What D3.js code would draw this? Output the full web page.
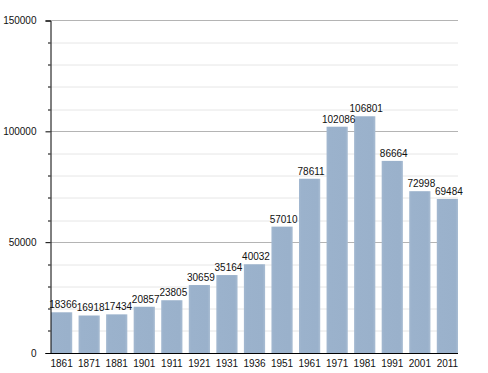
<!DOCTYPE html>
<html>
<head>
<meta charset="utf-8">
<script src="https://cdn.jsdelivr.net/npm/d3@7"></script>
<style>
  body { margin: 0; background: #fff; }
  text { font-family: "Liberation Sans", Arial, sans-serif; }
</style>
</head>
<body>
<div id="chart"></div>
<script>
// census years and population
var years = ["1861", "1871", "1881", "1901", "1911", "1921", "1931", "1936",
  "1951", "1961", "1971", "1981", "1991", "2001", "2011"];
var population = [18366, 16918, 17434, 20857, 23805, 30659, 35164, 40032,
  57010, 78611, 102086, 106801, 86664, 72998, 69484];
var yTicks = [0, 50000, 100000, 150000];

var svgWidth = 488;
var svgHeight = 373;
var margin = { top: 20.5, right: 30, bottom: 20, left: 50.5 };
var width = svgWidth - margin.left - margin.right;
var height = 353 - margin.top;

var svg = d3.select("#chart")
  .append("svg")
  .attr("width", svgWidth)
  .attr("height", svgHeight);

// soft glow on the bar edges
var defs = svg.append("defs");
var grad = defs.append("linearGradient")
  .attr("id", "barGrad")
  .attr("x1", "0%").attr("x2", "100%");
grad.append("stop").attr("offset", "0%").attr("stop-color", "#a3b8d0");
grad.append("stop").attr("offset", "12%").attr("stop-color", "#9bb2cc");
grad.append("stop").attr("offset", "88%").attr("stop-color", "#9ab1cb");
grad.append("stop").attr("offset", "100%").attr("stop-color", "#a9bdd3");

var chartGroup = svg.append("g")
  .attr("transform", `translate(${margin.left}, ${margin.top})`);

var xScale = d3.scaleBand()
  .domain(years)
  .range([0.5, width])
  .paddingInner(0.23)
  .paddingOuter(0);

var yScale = d3.scaleLinear()
  .domain([0, 150000])
  .range([height, 0]);

// minor gridlines every 10000
chartGroup.append("g")
  .selectAll("line")
  .data(d3.range(10000, 150000, 10000).filter(v => v % 50000 !== 0))
  .enter()
  .append("line")
  .attr("x1", 0)
  .attr("x2", width)
  .attr("y1", d => Math.round(yScale(d)) + 0.5)
  .attr("y2", d => Math.round(yScale(d)) + 0.5)
  .attr("stroke", "#e6e6e6");

// major gridlines
chartGroup.append("g")
  .selectAll("line")
  .data(yTicks.slice(1))
  .enter()
  .append("line")
  .attr("x1", 0)
  .attr("x2", width)
  .attr("y1", d => Math.round(yScale(d)))
  .attr("y2", d => Math.round(yScale(d)))
  .attr("stroke", "#b4b4b4");

// bars
chartGroup.selectAll("rect")
  .data(population)
  .enter()
  .append("rect")
  .attr("x", (d, i) => xScale(years[i]))
  .attr("y", d => yScale(d))
  .attr("width", xScale.bandwidth())
  .attr("height", d => height - yScale(d))
  .attr("fill", "url(#barGrad)");

// value labels
chartGroup.selectAll(".val")
  .data(population)
  .enter()
  .append("text")
  .attr("class", "val")
  .attr("x", (d, i) => xScale(years[i]) + xScale.bandwidth() / 2 + 1.5)
  .attr("y", d => yScale(d) - 4)
  .attr("text-anchor", "middle")
  .attr("font-size", 10)
  .attr("fill", "#111")
  .text(d => d);

// y axis with minor ticks
var leftAxis = d3.axisLeft(yScale)
  .tickValues(yTicks)
  .tickSize(5)
  .tickPadding(9)
  .tickFormat(d => d);
var yAxis = chartGroup.append("g").call(leftAxis);
yAxis.select(".domain").attr("stroke", "#000");
yAxis.selectAll("text").attr("font-size", 10).attr("fill", "#111")
  .style("font-family", "Liberation Sans, Arial, sans-serif");

chartGroup.append("g")
  .selectAll("line")
  .data(d3.range(10000, 150000, 10000).filter(v => v % 50000 !== 0))
  .enter()
  .append("line")
  .attr("x1", -2.5)
  .attr("x2", 0)
  .attr("y1", d => Math.round(yScale(d)) + 0.5)
  .attr("y2", d => Math.round(yScale(d)) + 0.5)
  .attr("stroke", "#000");

// x axis
var bottomAxis = d3.axisBottom(xScale).tickSize(0).tickPadding(7);
var xAxis = chartGroup.append("g")
  .attr("transform", `translate(0, ${height})`)
  .call(bottomAxis);
xAxis.select(".domain").attr("stroke", "#000").attr("d", `M0,0.5H${width}`);
xAxis.selectAll("text").attr("font-size", 10).attr("fill", "#111")
  .style("font-family", "Liberation Sans, Arial, sans-serif");
</script>
</body>
</html>
